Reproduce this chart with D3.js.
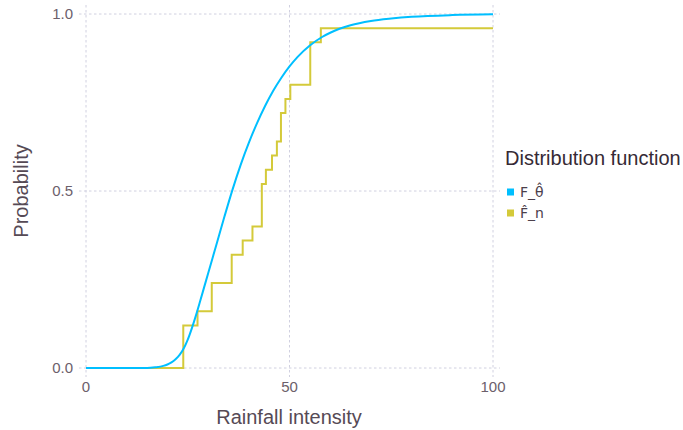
<!DOCTYPE html>
<html>
<head>
<meta charset="utf-8">
<script src="https://cdn.jsdelivr.net/npm/d3@7"></script>
<style>
  html, body { margin: 0; padding: 0; background: #ffffff; }
  svg { display: block; font-family: "Liberation Sans", Arial, sans-serif; }
  .key-label { font-family: "DejaVu Sans", sans-serif; }
</style>
</head>
<body>
<svg id="chart" width="683" height="430"></svg>
<script>
// Axis ticks
const xTicks = [0, 50, 100];
const xTickLabels = ["0", "50", "100"];
const yTicks = [0, 0.5, 1];
const yTickLabels = ["0.0", "0.5", "1.0"];

// Legend entries
const seriesNames = ["F_\u03B8\u0302", "F\u0302_n"];
const seriesColors = ["#00BFFF", "#D4CA3A"];

// Fitted distribution function, sampled along rainfall intensity
const fittedX = [0, 10, 15, 17, 19, 20, 21, 22, 23, 24, 25, 26, 27, 28, 29, 30, 32, 34, 36, 38, 40, 42, 44, 46, 48, 50, 52, 55, 58, 60, 65, 70, 75, 80, 90, 100];
const fittedP = [0, 0, 0, 0.002, 0.006, 0.010, 0.016, 0.025, 0.037, 0.055, 0.08, 0.112, 0.148, 0.187, 0.227, 0.267, 0.347, 0.427, 0.504, 0.574, 0.636, 0.691, 0.740, 0.783, 0.820, 0.852, 0.879, 0.911, 0.935, 0.947, 0.968, 0.980, 0.987, 0.992, 0.997, 0.999];

// Empirical distribution function: jump locations and levels
const stepX = [0, 23.9, 27.4, 30.9, 35.8, 38.5, 40.9, 43.2, 44.2, 45.7, 46.9, 47.9, 49.0, 50.2, 55.1, 57.7, 100];
const stepP = [0, 0.12, 0.16, 0.24, 0.32, 0.36, 0.40, 0.52, 0.56, 0.60, 0.64, 0.72, 0.76, 0.80, 0.92, 0.96, 0.96];

const svg = d3.select("#chart");

const x = d3.scaleLinear().domain([0, 100]).range([86, 493]);
const y = d3.scaleLinear().domain([0, 1]).range([368, 14]);

const panel = { left: 79, right: 500, top: 5, bottom: 377 };
const gridColor = "#D0D0E0";

// Grid lines
svg.append("g").selectAll("line").data(xTicks).join("line")
  .attr("x1", d => x(d)).attr("x2", d => x(d))
  .attr("y1", panel.top).attr("y2", panel.bottom)
  .attr("stroke", gridColor).attr("stroke-width", 1)
  .attr("stroke-dasharray", "2.5,2.5");

svg.append("g").selectAll("line").data(yTicks).join("line")
  .attr("x1", panel.left).attr("x2", panel.right)
  .attr("y1", d => y(d)).attr("y2", d => y(d))
  .attr("stroke", gridColor).attr("stroke-width", 1)
  .attr("stroke-dasharray", "2.5,2.5");

// Tick labels
svg.append("g").selectAll("text").data(xTicks).join("text")
  .attr("x", d => x(d)).attr("y", 392)
  .attr("text-anchor", "middle")
  .attr("font-size", 15).attr("fill", "#6c606b")
  .text((d, i) => xTickLabels[i]);

svg.append("g").selectAll("text").data(yTicks).join("text")
  .attr("x", 73).attr("y", d => y(d) + 5)
  .attr("text-anchor", "end")
  .attr("font-size", 15).attr("fill", "#6c606b")
  .text((d, i) => yTickLabels[i]);

// Axis titles
svg.append("text")
  .attr("x", 289).attr("y", 424)
  .attr("text-anchor", "middle")
  .attr("font-size", 20).attr("fill", "#564a55")
  .text("Rainfall intensity");

svg.append("text")
  .attr("transform", "translate(28,191) rotate(-90)")
  .attr("text-anchor", "middle")
  .attr("font-size", 20).attr("fill", "#564a55")
  .text("Probability");

// Empirical step function
const stepLine = d3.line()
  .x((d, i) => x(stepX[i]))
  .y((d, i) => y(stepP[i]))
  .curve(d3.curveStepAfter);

svg.append("path")
  .attr("d", stepLine(stepX))
  .attr("fill", "none")
  .attr("stroke", seriesColors[1])
  .attr("stroke-width", 2);

// Fitted curve
const fitLine = d3.line()
  .x((d, i) => x(fittedX[i]))
  .y((d, i) => y(fittedP[i]))
  .curve(d3.curveMonotoneX);

svg.append("path")
  .attr("d", fitLine(fittedX))
  .attr("fill", "none")
  .attr("stroke", seriesColors[0])
  .attr("stroke-width", 2);

// Legend
svg.append("text")
  .attr("x", 505).attr("y", 165)
  .attr("font-size", 20).attr("fill", "#362a35")
  .text("Distribution function");

const legend = svg.append("g").selectAll("g").data(seriesNames).join("g")
  .attr("transform", (d, i) => `translate(0, ${192 + i * 21})`);

legend.append("rect")
  .attr("x", 507).attr("y", -3.5)
  .attr("width", 7).attr("height", 7)
  .attr("fill", (d, i) => seriesColors[i]);

legend.append("text")
  .attr("class", "key-label")
  .attr("x", 520).attr("y", 5)
  .attr("font-size", 14).attr("fill", "#4c404b")
  .text(d => d);
</script>
</body>
</html>
